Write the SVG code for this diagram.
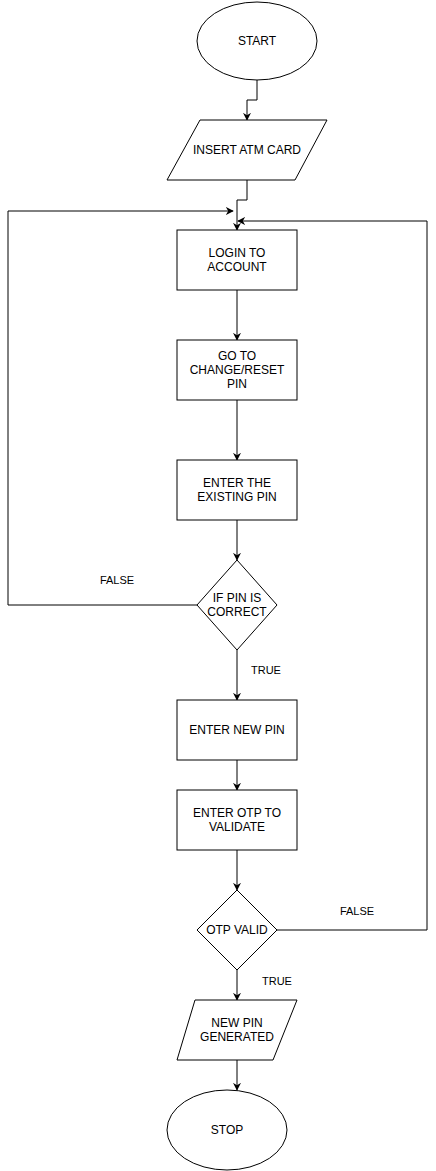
<svg xmlns="http://www.w3.org/2000/svg" width="436" height="1171" viewBox="0 0 436 1171">
<defs>
<marker id="arr" viewBox="0 0 10 10" refX="9" refY="5" markerWidth="8" markerHeight="8" markerUnits="userSpaceOnUse" orient="auto">
<path d="M0,0 L10,5 L0,10 L3,5 Z" fill="#000"/>
</marker>
<style>
.s{fill:#fff;stroke:#000;stroke-width:1}
.c{fill:none;stroke:#000;stroke-width:1;marker-end:url(#arr)}
text{font-family:"Liberation Sans",Arial,sans-serif;font-size:12px;fill:#000;text-anchor:middle;dominant-baseline:central}
</style>
</defs>
<rect width="436" height="1171" fill="#fff"/>
<g id="connectors">
<path class="c" d="M257,80 V100 H247 V120"/>
<path class="c" d="M247,180 V200 H237 V230"/>
<path class="c" d="M197,605 H8 V211 H233"/>
<path class="c" d="M277,930 H427 V221 H238"/>
<path class="c" d="M237,290 V340"/>
<path class="c" d="M237,400 V460"/>
<path class="c" d="M237,520 V560"/>
<path class="c" d="M237,650 V700"/>
<path class="c" d="M237,760 V790"/>
<path class="c" d="M237,850 V890"/>
<path class="c" d="M237,970 V1000"/>
<path class="c" d="M237,1060 V1090"/>
<text x="117" y="580" style="font-size:11px">FALSE</text>
<text x="266" y="670" style="font-size:11px">TRUE</text>
<text x="357" y="911" style="font-size:11px">FALSE</text>
<text x="277" y="981" style="font-size:11px">TRUE</text>
</g>
<g id="start"><ellipse class="s" cx="257" cy="41" rx="60" ry="39"/><text x="257" y="41">START</text></g>
<g id="insert"><polygon class="s" points="200,120 327,120 295,180 167,180"/><text x="247" y="150">INSERT ATM CARD</text></g>
<g id="login"><rect class="s" x="177" y="230" width="120" height="60"/><text x="237" y="253">LOGIN TO</text><text x="237" y="267">ACCOUNT</text></g>
<g id="change"><rect class="s" x="177" y="340" width="120" height="60"/><text x="237" y="356">GO TO</text><text x="237" y="370">CHANGE/RESET</text><text x="237" y="384">PIN</text></g>
<g id="existing"><rect class="s" x="177" y="460" width="120" height="60"/><text x="237" y="483">ENTER THE</text><text x="237" y="497">EXISTING PIN</text></g>
<g id="pincheck"><polygon class="s" points="237,560 277,605 237,650 197,605"/><text x="237" y="598">IF PIN IS</text><text x="237" y="612">CORRECT</text></g>
<g id="newpin"><rect class="s" x="177" y="700" width="120" height="60"/><text x="237" y="730">ENTER NEW PIN</text></g>
<g id="otp"><rect class="s" x="177" y="790" width="120" height="60"/><text x="237" y="813">ENTER OTP TO</text><text x="237" y="827">VALIDATE</text></g>
<g id="otpvalid"><polygon class="s" points="237,890 277,930 237,970 197,930"/><text x="237" y="930">OTP VALID</text></g>
<g id="generated"><polygon class="s" points="195,1000 297,1000 273,1060 177,1060"/><text x="237" y="1023">NEW PIN</text><text x="237" y="1037">GENERATED</text></g>
<g id="stop"><ellipse class="s" cx="227" cy="1130" rx="60" ry="40"/><text x="227" y="1130">STOP</text></g>
</svg>
